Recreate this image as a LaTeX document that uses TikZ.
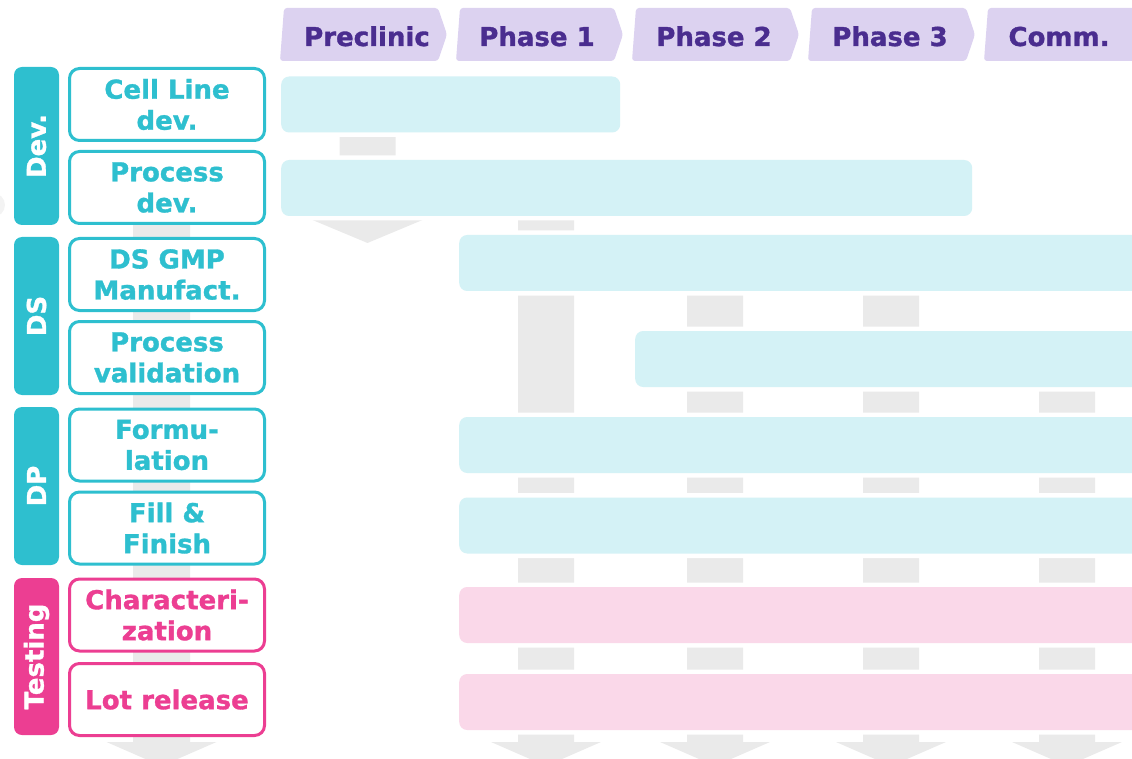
\documentclass[tikz,border=0pt]{standalone}
\usepackage{fontspec}
\setmainfont{DejaVu Sans}[BoldFeatures={FakeBold=1.2}]
\definecolor{cteal}{HTML}{2EBFCF}
\definecolor{cbar}{HTML}{D4F2F6}
\definecolor{cpink}{HTML}{EC3E92}
\definecolor{cpbar}{HTML}{FAD8E9}
\definecolor{cchev}{HTML}{DCD2F0}
\definecolor{cpurple}{HTML}{4A2D8F}
\definecolor{cgray}{HTML}{EAEAEA}
\newcommand\grayarrow[5]{% cx, half shaft, ytop, ybase, tip
  \fill[cgray] (#1-#2,#3) -- (#1+#2,#3) -- (#1+#2,#4) -- (#1+55,#4) -- (#1,#5)
    -- (#1-55,#4) -- (#1-#2,#4) -- cycle;}
\newcommand\chevshape[1]{%
  \fill[cchev, rounded corners=3pt] (#1+4,8) -- (#1+158,8) -- (#1+167,34.5)
    -- (#1+158,61) -- (#1,61) -- cycle;}
\begin{document}
\begin{tikzpicture}[x=1pt,y=-1pt,
  bigfont/.style={font=\bfseries\fontsize{26}{31}\selectfont},
  hdr/.style={bigfont, text=cpurple, inner sep=0pt, anchor=base},
  lbl/.style={draw=cteal, line width=3pt, fill=white, rounded corners=10pt,
    minimum width=195pt, minimum height=72pt, text=cteal, bigfont,
    align=center, inner sep=0pt},
  pinklbl/.style={lbl, draw=cpink, text=cpink},
  cat/.style={fill=cteal, rounded corners=8pt, rotate=90, minimum width=158pt,
    minimum height=45pt, inner sep=0pt, text=white, bigfont},
  pinkcat/.style={cat, fill=cpink},
  bar/.style={fill=cbar, rounded corners=8pt, preaction={draw=white, line width=9pt},
    inner sep=0pt, minimum height=56pt, anchor=west},
  pinkbar/.style={bar, fill=cpbar}]
\useasboundingbox (0,0) rectangle (1132,759);
\clip (0,0) rectangle (1132,759);
% faint shape at left edge
\fill[cgray!60] (-7,205) circle (12);
% header chevrons
\chevshape{280}\chevshape{456}\chevshape{632}\chevshape{808}\chevshape{984}
\node[hdr] (h0) at (367,46) {Preclinic};
\node[hdr] (h1) at (537,46) {Phase 1};
\node[hdr] (h2) at (714,46) {Phase 2};
\node[hdr] (h3) at (890,46) {Phase 3};
\node[hdr] (h4) at (1059,46) {Comm.};
% background gray arrows
\grayarrow{161.5}{28.5}{180}{742}{766}
\grayarrow{367.5}{28}{110}{220}{243}
\grayarrow{546}{28}{190}{742}{766}
\grayarrow{715}{28}{260}{742}{766}
\grayarrow{891}{28}{260}{742}{766}
\grayarrow{1067}{28}{360}{742}{766}
% bars
\node[bar, minimum width=339pt] (b1) at (281,104.5) {};
\node[bar, minimum width=691pt] (b2) at (281,188) {};
\node[bar, minimum width=700pt] (b3) at (459,263) {};
\node[bar, minimum width=520pt] (b4) at (635,359) {};
\node[bar, minimum width=700pt] (b5) at (459,445) {};
\node[bar, minimum width=700pt] (b6) at (459,525.5) {};
\node[pinkbar, minimum width=700pt] (b7) at (459,615) {};
\node[pinkbar, minimum width=700pt] (b8) at (459,702) {};
% category bars
\node[cat] (cdev) at (36.5,146) {Dev.};
\node[cat] (cds) at (36.5,316) {DS};
\node[cat] (cdp) at (36.5,486) {DP};
\node[pinkcat, minimum width=157pt] (ctest) at (36.5,656.5) {Testing};
% label boxes
\node[lbl] (l1) at (167,104.5) {Cell Line\\dev.};
\node[lbl] (l2) at (167,187.5) {Process\\dev.};
\node[lbl] (l3) at (167,274.5) {DS GMP\\Manufact.};
\node[lbl] (l4) at (167,357.5) {Process\\validation};
\node[lbl] (l5) at (167,445) {Formu-\\lation};
\node[lbl] (l6) at (167,528) {Fill \&\\Finish};
\node[pinklbl] (l7) at (167,615) {Characteri-\\zation};
\node[pinklbl] (l8) at (167,699.5) {Lot release};
\end{tikzpicture}
\end{document}
